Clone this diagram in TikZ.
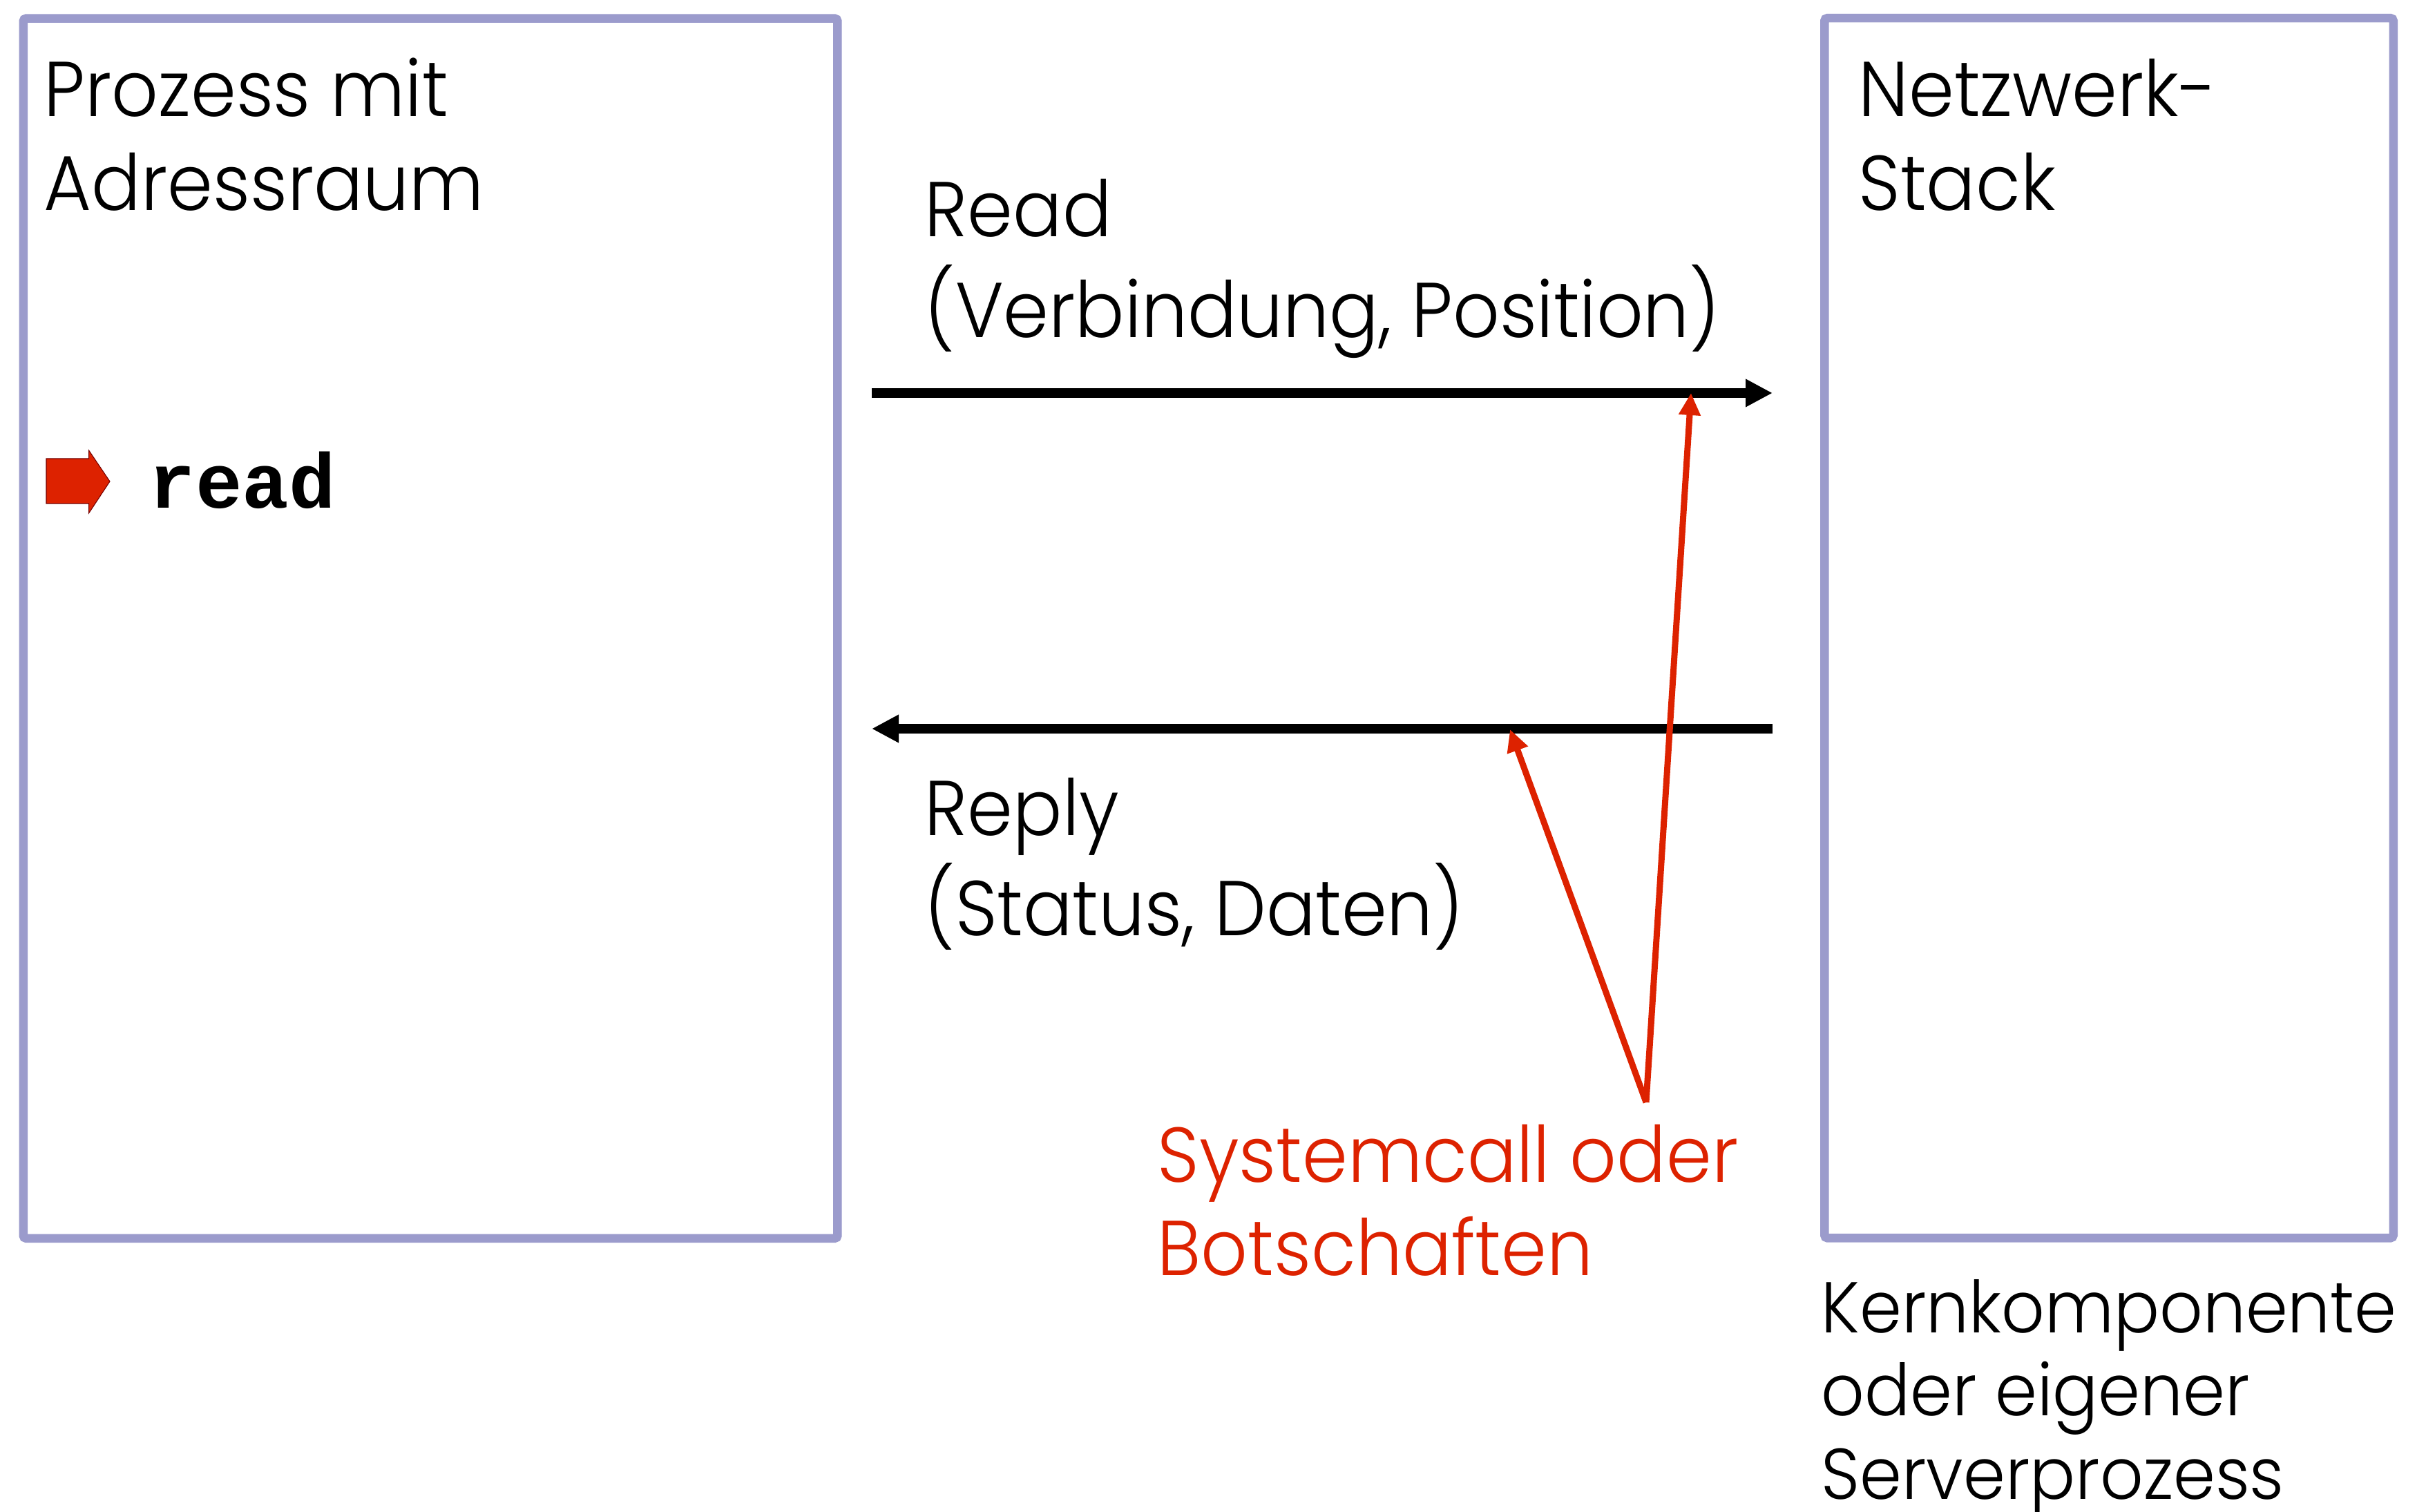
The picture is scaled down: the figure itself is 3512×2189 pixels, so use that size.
\documentclass[tikz,border=0pt]{standalone}
\usepackage{fontspec}
\setmainfont{Poppins Light}[FakeStretch=0.94]
\newfontfamily\codefont{Liberation Mono}
\usetikzlibrary{arrows.meta}
\definecolor{boxcol}{RGB}{155,155,204}
\definecolor{redcol}{RGB}{221,34,0}
\begin{document}
\begin{tikzpicture}[x=0.01cm,y=-0.01cm,
  box/.style={draw=boxcol, line width=0.125cm, rounded corners=0.04cm, minimum height=17.65cm, anchor=north west, inner sep=0pt},
  lbl/.style={anchor=base west, inner sep=0pt, font=\fontsize{32}{38.6}\selectfont},
  smalllbl/.style={anchor=base west, inner sep=0pt, font=\fontsize{29.6}{34.3}\selectfont},
  msg/.style={line width=0.14cm, -{Triangle[length=0.39cm,width=0.38cm]}},
  call/.style={draw=redcol, line width=0.09cm, -{Triangle[length=0.32cm,width=0.30cm]}}]
\useasboundingbox (0,0) rectangle (3512,2189);
% boxes
\node (proc) [box, minimum width=11.78cm] at (27.5,20.5) {};
\node (net) [box, minimum width=8.23cm] at (2635,20) {};
% texts
\node (proct) [lbl] at (63,169) {\begin{tabular}[t]{@{}l@{}}Prozess mit\\Adressraum\end{tabular}};
\node (nett) [lbl] at (2690,169) {\begin{tabular}[t]{@{}l@{}}Netzwerk-\\Stack\end{tabular}};
\node (readt) [lbl] at (1338,343) {\begin{tabular}[t]{@{}l@{}}Read\\(Verbindung, Position)\end{tabular}};
\node (replyt) [lbl] at (1338,1209) {\begin{tabular}[t]{@{}l@{}}Reply\\(Status, Daten)\end{tabular}};
\node (callt) [lbl, text=redcol] at (1675,1711) {\begin{tabular}[t]{@{}l@{}}Systemcall oder\\Botschaften\end{tabular}};
\node (kernt) [smalllbl] at (2636,1929) {\begin{tabular}[t]{@{}l@{}}Kernkomponente\\oder eigener\\Serverprozess\end{tabular}};
\node (code) [anchor=base west, inner sep=0pt, font=\codefont\bfseries\fontsize{32}{38}\selectfont] at (215,736) {read};
% red pointer icon
\fill[redcol, draw=red!45!black, line width=0.3pt] (67,664) -- (128.6,664) -- (128.6,652) -- (159,697) -- (128.6,743) -- (128.6,729) -- (67,729) -- cycle;
% message arrows
\coordinate (reqs) at (1262,569);
\coordinate (reqe) at (2566,569);
\coordinate (reps) at (2566,1055);
\coordinate (repe) at (1262,1055);
\draw[msg] (reqs) -- (reqe);
\draw[msg] (reps) -- (repe);
% red call arrows
\coordinate (v) at (2383,1596);
\coordinate (t1) at (2448,569);
\coordinate (t2) at (2186,1056);
\draw[call] (v) -- (t1);
\draw[call] (v) -- (t2);
\end{tikzpicture}
\end{document}
